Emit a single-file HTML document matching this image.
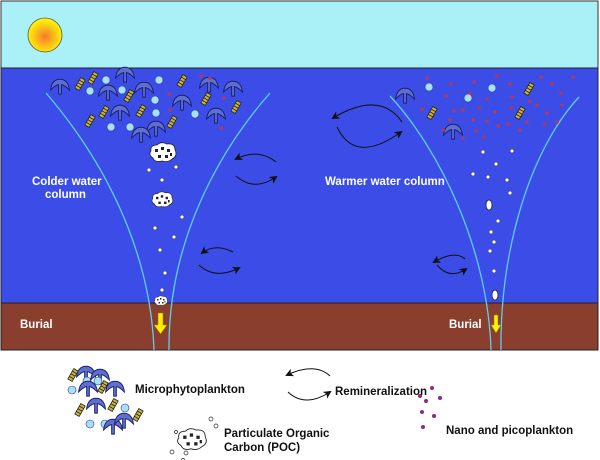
<!DOCTYPE html>
<html><head><meta charset="utf-8"><style>
html,body{margin:0;padding:0;background:#fff;width:600px;height:460px;overflow:hidden}
svg{display:block}
text{font-family:"Liberation Sans",Arial,sans-serif;font-weight:bold}
</style></head><body>
<svg width="600" height="460" viewBox="0 0 600 460" xmlns="http://www.w3.org/2000/svg">
<defs>
<radialGradient id="sun" cx="0.5" cy="0.55" r="0.5">
<stop offset="0" stop-color="#f57a2a"/><stop offset="0.6" stop-color="#fbc319"/><stop offset="1" stop-color="#fff200"/></radialGradient>
<g id="m"><path transform="scale(1.35)" d="M-7,3 Q-6,-5 0,-5 Q6,-5 7,3 Q3,-1 1,-1 L1,6 L-1,6 L-1,-1 Q-3,-1 -7,3Z" fill="#5f6fd0" stroke="#1a1f6a" stroke-width="0.7"/></g>
<g id="l"><g transform="rotate(-60)"><rect x="-6" y="-2.5" width="12" height="5" fill="#c9b24a" stroke="#2a2a10" stroke-width="0.8"/><path d="M-3,-2.5V2.5M0,-2.5V2.5M3,-2.5V2.5" stroke="#2a2a10" stroke-width="0.8"/></g></g>
<g id="c"><circle r="4" fill="#a7e0f5" stroke="#2a3a90" stroke-width="0.6"/></g>
<g id="d"><circle r="1.8" fill="#b03a5c"/></g>
<g id="w"><circle r="2" fill="#fff" stroke="#223" stroke-width="0.5"/></g>
<g id="poc"><path d="M-12,-2 Q-13,-8 -6,-8 Q-2,-12 4,-9 Q12,-10 12,-3 Q15,3 9,6 Q5,10 -1,8 Q-8,10 -10,5 Q-15,2 -12,-2Z" fill="#fff" stroke="#222" stroke-width="0.8"/><g fill="#222"><rect x="-8" y="-4" width="3" height="3"/><rect x="-2" y="-6" width="3" height="3"/><rect x="4" y="-4" width="3" height="3"/><rect x="-5" y="2" width="3" height="3"/><rect x="2" y="2" width="3" height="3"/><rect x="7" y="0" width="2" height="3"/></g></g>
<marker id="ah" markerWidth="8" markerHeight="8" refX="6" refY="4" orient="auto" markerUnits="userSpaceOnUse"><path d="M0,0 L8,4 L0,8 L2,4Z" fill="#111"/></marker>
</defs>
<rect x="1" y="1" width="597" height="67" fill="#aaf0f7" stroke="#333" stroke-width="1"/>
<rect x="1" y="68" width="597" height="235" fill="#3b4de6" stroke="#222" stroke-width="1"/>
<rect x="1" y="303" width="597" height="47" fill="#8a3f2e" stroke="#222" stroke-width="1"/>
<circle cx="45" cy="35" r="17" fill="url(#sun)" stroke="#555" stroke-width="0.8"/>
<g fill="none" stroke="#5ccff0" stroke-width="1.3">
<path d="M46,93 C95,150 150,240 154,350"/>
<path d="M270,93 C220,150 168,240 169,350"/>
<path d="M390,96 C440,150 488,250 491,350"/>
<path d="M579,97 C530,150 500,250 501,350"/>
</g>
<g>
<use href="#m" x="60" y="86"/><use href="#m" x="125" y="74"/><use href="#m" x="108" y="92"/><use href="#m" x="144" y="89"/><use href="#m" x="209" y="84"/><use href="#m" x="233" y="88"/><use href="#m" x="182" y="102"/><use href="#m" x="120" y="112"/><use href="#m" x="216" y="115"/><use href="#m" x="156" y="128"/><use href="#m" x="141" y="134"/>
<use href="#l" x="80" y="84"/><use href="#l" x="93" y="78"/><use href="#l" x="129" y="96"/><use href="#l" x="182" y="81"/><use href="#l" x="206" y="99"/><use href="#l" x="104" y="112"/><use href="#l" x="141" y="111"/><use href="#l" x="172" y="122"/><use href="#l" x="90" y="121"/><use href="#l" x="236" y="107"/>
<use href="#c" x="106" y="80"/><use href="#c" x="159" y="80"/><use href="#c" x="90" y="91"/><use href="#c" x="122" y="90"/><use href="#c" x="155" y="100"/><use href="#c" x="156" y="113"/><use href="#c" x="195" y="114"/><use href="#c" x="111" y="127"/><use href="#c" x="130" y="127"/>
<use href="#d" x="201" y="76"/><use href="#d" x="210" y="78"/><use href="#d" x="169" y="94"/><use href="#d" x="224" y="98"/><use href="#d" x="170" y="110"/><use href="#d" x="221" y="128"/>
<use href="#poc" x="163" y="153"/><use href="#poc" x="163" y="200" transform="translate(32,40) scale(0.8)"/>
<use href="#w" x="149" y="170"/><use href="#w" x="176" y="167"/><use href="#w" x="162" y="180"/><use href="#w" x="182" y="217"/><use href="#w" x="155" y="228"/><use href="#w" x="174" y="237"/><use href="#w" x="160" y="250"/><use href="#w" x="165" y="273"/><use href="#w" x="162" y="290"/>
<g transform="translate(161,301) scale(0.5)"><use href="#poc"/></g>
</g>
<g>
<use href="#m" x="405" y="95"/><use href="#m" x="453" y="131"/>
<use href="#l" x="529" y="89"/><use href="#l" x="432" y="113"/><use href="#l" x="520" y="113"/>
<use href="#c" x="429" y="87"/><use href="#c" x="468" y="98"/><use href="#c" x="492" y="88"/>
<g>
<use href="#d" x="427" y="78"/><use href="#d" x="451" y="84"/><use href="#d" x="474" y="82"/><use href="#d" x="497" y="76"/><use href="#d" x="510" y="84"/><use href="#d" x="541" y="77"/><use href="#d" x="552" y="84"/><use href="#d" x="573" y="77"/>
<use href="#d" x="446" y="96"/><use href="#d" x="470" y="93"/><use href="#d" x="487" y="99"/><use href="#d" x="512" y="97"/><use href="#d" x="530" y="101"/><use href="#d" x="561" y="93"/>
<use href="#d" x="422" y="109"/><use href="#d" x="454" y="111"/><use href="#d" x="463" y="110"/><use href="#d" x="479" y="108"/><use href="#d" x="495" y="112"/><use href="#d" x="511" y="108"/><use href="#d" x="537" y="105"/><use href="#d" x="547" y="113"/><use href="#d" x="562" y="105"/>
<use href="#d" x="450" y="120"/><use href="#d" x="473" y="120"/><use href="#d" x="487" y="121"/><use href="#d" x="508" y="124"/><use href="#d" x="527" y="122"/><use href="#d" x="545" y="124"/><use href="#d" x="557" y="122"/>
<use href="#d" x="443" y="130"/><use href="#d" x="476" y="131"/><use href="#d" x="498" y="126"/><use href="#d" x="520" y="130"/><use href="#d" x="463" y="138"/><use href="#d" x="484" y="137"/>
</g>
<use href="#w" x="483" y="152"/><use href="#w" x="512" y="151"/><use href="#w" x="496" y="164"/><use href="#w" x="473" y="174"/><use href="#w" x="488" y="177"/><use href="#w" x="507" y="180"/><use href="#w" x="510" y="193"/><use href="#w" x="498" y="221"/><use href="#w" x="491" y="232"/><use href="#w" x="494" y="242"/><use href="#w" x="490" y="251"/><use href="#w" x="494" y="271"/>
<ellipse cx="489" cy="205" rx="3" ry="5" fill="#fff" stroke="#222" stroke-width="0.8"/>
<ellipse cx="495" cy="295" rx="3" ry="5" fill="#fff" stroke="#222" stroke-width="0.8"/>
</g>
<g fill="#ffee00" stroke="#8a7a00" stroke-width="0.5">
<path d="M158,313 h5 v12 h4 l-6.5,9 l-6.5,-9 h4z"/>
<path d="M494,315 h4 v10 h3 l-5,8 l-5,-8 h3z"/>
</g>
<g fill="none" stroke="#111" stroke-width="1" marker-end="url(#ah)">
<path d="M276,162 Q258,148 236,159"/><path d="M236,176 Q254,192 276,177"/>
<path d="M233,252 Q215,243 202,253"/><path d="M199,265 Q215,280 239,268"/>
<path d="M402,122 Q380,90 333,118"/><path d="M337,127 Q355,165 401,132"/>
<path d="M465,259 Q455,250 434,262"/><path d="M437,265 Q450,280 466,269"/>
<path d="M330,376 Q315,362 287,375"/><path d="M288,392 Q305,408 330,392"/>
</g>
<g fill="#fff" font-size="11.5">
<text x="32" y="185">Colder water</text><text x="45" y="198">column</text>
<text x="325" y="185">Warmer water column</text>
<text x="20" y="328">Burial</text><text x="449" y="328">Burial</text>
</g>
<g>
<use href="#l" x="73" y="375"/><use href="#m" x="86" y="373"/><use href="#c" x="87" y="381"/><use href="#m" x="100" y="376"/><use href="#c" x="98" y="381"/><use href="#l" x="103" y="387"/><use href="#m" x="115" y="388"/><use href="#c" x="72" y="390"/><use href="#m" x="88" y="388"/>
<use href="#l" x="80" y="410"/><use href="#m" x="96" y="405"/><use href="#l" x="113" y="405"/><use href="#c" x="125" y="408"/><use href="#c" x="90" y="424"/><use href="#c" x="105" y="424"/><use href="#m" x="113" y="426"/><use href="#m" x="124" y="420"/><use href="#l" x="138" y="415"/>
<g transform="translate(192,440) scale(1.1)"><use href="#poc"/></g>
<g fill="none" stroke="#222" stroke-width="0.7"><circle cx="211" cy="419" r="2"/><circle cx="216" cy="426" r="2"/><circle cx="172" cy="452" r="2"/><circle cx="186" cy="453" r="2"/><circle cx="200" cy="463" r="2"/><circle cx="183" cy="460" r="1.5"/><circle cx="176" cy="432" r="1.5"/></g>
<g fill="#8a2a8a"><circle cx="420" cy="396" r="2"/><circle cx="432" cy="388" r="2"/><circle cx="426" cy="401" r="2"/><circle cx="440" cy="398" r="2"/><circle cx="422" cy="412" r="2"/><circle cx="434" cy="416" r="2"/><circle cx="423" cy="427" r="2"/></g>
</g>
<g fill="#111" font-size="11.5">
<text x="135" y="393">Microphytoplankton</text>
<text x="335" y="395">Remineralization</text>
<text x="224" y="437">Particulate Organic</text><text x="224" y="451">Carbon (POC)</text>
<text x="446" y="434">Nano and picoplankton</text>
</g>
</svg>
</body></html>
